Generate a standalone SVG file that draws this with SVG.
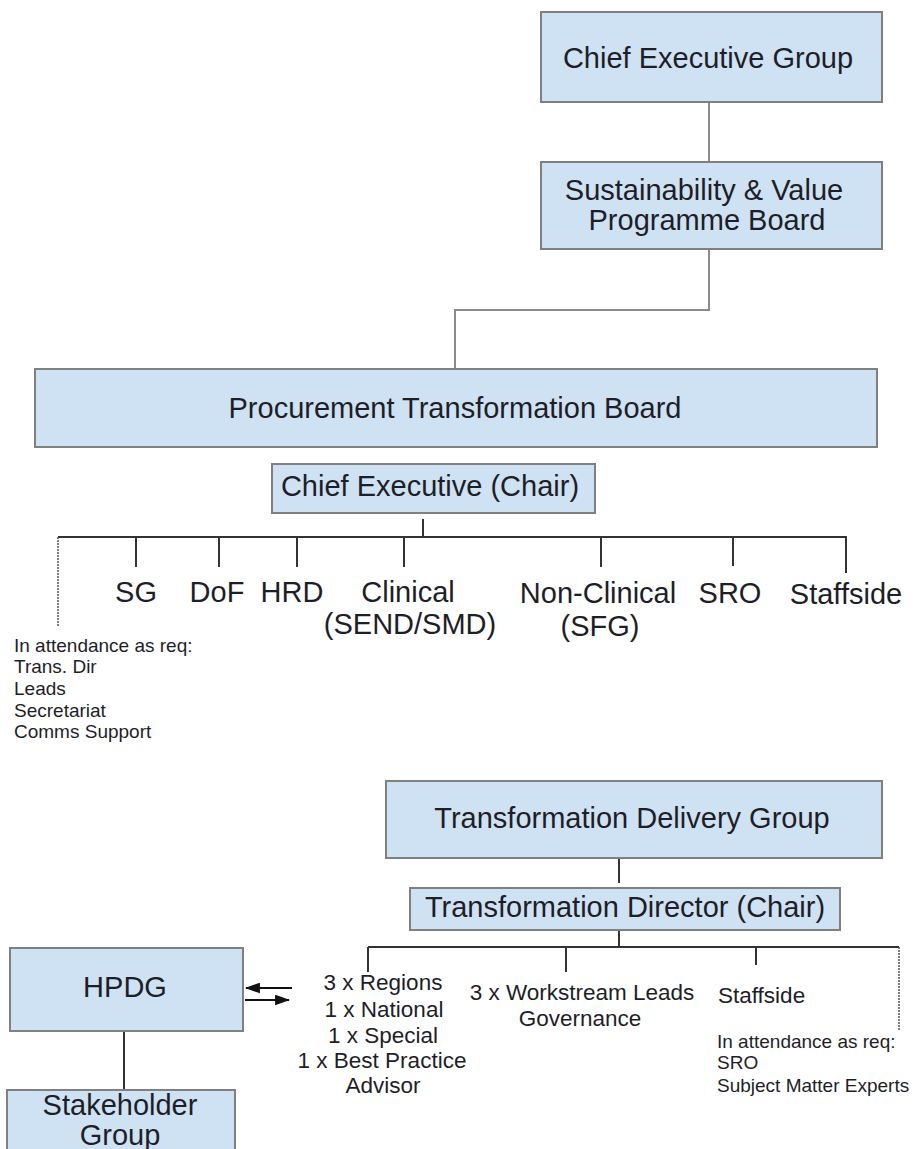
<svg xmlns="http://www.w3.org/2000/svg" width="920" height="1149" viewBox="0 0 920 1149">
<style>
.box{fill:#cfe2f3;stroke:#808080;stroke-width:2}
.t{font-family:"Liberation Sans",Arial,sans-serif;fill:#1e1e28;text-anchor:middle}
.big{font-size:29px}
.mid{font-size:22.5px}
.sm{font-size:19px;text-anchor:start}
.gl{stroke:#8a8a8a;stroke-width:2;fill:none}
.dl{stroke:#333;stroke-width:2;fill:none}
.dot{stroke:#555;stroke-width:1.5;stroke-dasharray:2,1;fill:none}
.ar{stroke:#111;stroke-width:2;fill:none}
</style>
<defs>
<marker id="ah" viewBox="0 0 14 10" refX="13" refY="5" markerWidth="7.5" markerHeight="5.5" markerUnits="strokeWidth" orient="auto">
<path d="M0,0 L14,5 L0,10 z" fill="#111"/>
</marker>
</defs>
<rect width="920" height="1149" fill="#fff"/>
<g id="connectors">
<line class="gl" x1="709" y1="102" x2="709" y2="162"/>
<polyline class="gl" points="709,249 709,310 455,310 455,369"/>
<line class="dl" x1="423" y1="519" x2="423" y2="537"/>
<line class="dl" x1="58" y1="537" x2="847" y2="537"/>
<line class="dl" x1="136" y1="537" x2="136" y2="567"/>
<line class="dl" x1="219" y1="537" x2="219" y2="567"/>
<line class="dl" x1="297" y1="537" x2="297" y2="567"/>
<line class="dl" x1="404" y1="537" x2="404" y2="567"/>
<line class="dl" x1="601" y1="537" x2="601" y2="567"/>
<line class="dl" x1="733" y1="537" x2="733" y2="566"/>
<line class="dl" x1="846" y1="537" x2="846" y2="573"/>
<line class="dot" x1="58" y1="537" x2="58" y2="627"/>
<line class="dl" x1="619" y1="858" x2="619" y2="883"/>
<line class="dl" x1="619" y1="930" x2="619" y2="947"/>
<line class="dl" x1="368" y1="947" x2="899" y2="947"/>
<line class="dl" x1="368" y1="947" x2="368" y2="972"/>
<line class="dl" x1="566" y1="947" x2="566" y2="972"/>
<line class="dl" x1="756" y1="947" x2="756" y2="965"/>
<line class="dot" x1="899" y1="947" x2="899" y2="1030"/>
<line class="ar" x1="292" y1="988" x2="246" y2="988" marker-end="url(#ah)"/>
<line class="ar" x1="245" y1="1000" x2="289" y2="1000" marker-end="url(#ah)"/>
<line class="dl" x1="124" y1="1031" x2="124" y2="1090"/>
</g>
<g id="ceg">
<rect class="box" x="541" y="12" width="341" height="90"/>
<text class="t big" x="708" y="68">Chief Executive Group</text>
</g>
<g id="svpb">
<rect class="box" x="541" y="162" width="341" height="87"/>
<text class="t big" x="704" y="200">Sustainability &amp; Value</text>
<text class="t big" x="707" y="230">Programme Board</text>
</g>
<g id="ptb">
<rect class="box" x="35" y="369" width="842" height="78"/>
<text class="t big" x="455" y="418">Procurement Transformation Board</text>
</g>
<g id="ce-chair">
<rect class="box" x="272" y="464" width="323" height="49"/>
<text class="t big" x="430" y="496">Chief Executive (Chair)</text>
</g>
<g id="members">
<text class="t big" x="136" y="602">SG</text>
<text class="t big" x="217" y="602">DoF</text>
<text class="t big" x="292" y="602">HRD</text>
<text class="t big" x="408" y="602">Clinical</text>
<text class="t big" x="410" y="634">(SEND/SMD)</text>
<text class="t big" x="598" y="603">Non-Clinical</text>
<text class="t big" x="600" y="636">(SFG)</text>
<text class="t big" x="730" y="603">SRO</text>
<text class="t big" x="846" y="604">Staffside</text>
</g>
<g id="attendance-1">
<text class="t sm" x="14" y="652">In attendance as req:</text>
<text class="t sm" x="14" y="673">Trans. Dir</text>
<text class="t sm" x="14" y="695">Leads</text>
<text class="t sm" x="14" y="717">Secretariat</text>
<text class="t sm" x="14" y="738">Comms Support</text>
</g>
<g id="tdg">
<rect class="box" x="386" y="781" width="496" height="77"/>
<text class="t big" x="632" y="828">Transformation Delivery Group</text>
</g>
<g id="td-chair">
<rect class="box" x="410" y="888" width="430" height="42"/>
<text class="t big" x="625" y="917">Transformation Director (Chair)</text>
</g>
<g id="regions">
<text class="t mid" x="383" y="990">3 x Regions</text>
<text class="t mid" x="384" y="1017">1 x National</text>
<text class="t mid" x="383" y="1043">1 x Special</text>
<text class="t mid" x="382" y="1068">1 x Best Practice</text>
<text class="t mid" x="383" y="1093">Advisor</text>
</g>
<g id="workstream">
<text class="t mid" x="582" y="1000">3 x Workstream Leads</text>
<text class="t mid" x="580" y="1026">Governance</text>
</g>
<g id="staffside-2">
<text class="t mid" x="718" y="1003" style="text-anchor:start">Staffside</text>
</g>
<g id="attendance-2">
<text class="t sm" x="717" y="1048">In attendance as req:</text>
<text class="t sm" x="717" y="1069">SRO</text>
<text class="t sm" x="717" y="1092">Subject Matter Experts</text>
</g>
<g id="hpdg">
<rect class="box" x="10" y="948" width="233" height="83"/>
<text class="t big" x="125" y="997">HPDG</text>
</g>
<g id="stakeholder">
<rect class="box" x="7" y="1090" width="228" height="80"/>
<text class="t big" x="120" y="1115">Stakeholder</text>
<text class="t big" x="120" y="1145">Group</text>
</g>
</svg>
